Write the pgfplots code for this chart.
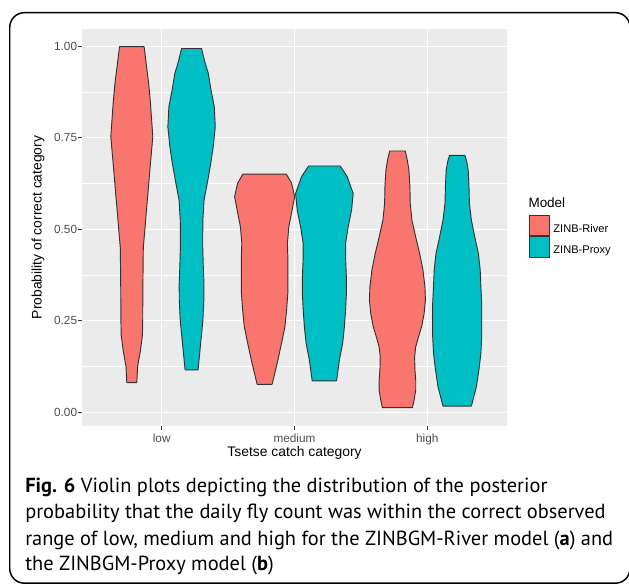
\documentclass[border=0pt]{standalone}
\usepackage{pgfplots}
\pgfplotsset{compat=1.18}
\usepackage{pgfplotstable}
\usepackage{fontspec}
\setmainfont{Liberation Sans}
\newfontfamily\capfont{PT Sans}

\definecolor{vred}{HTML}{F8766D}
\definecolor{vteal}{HTML}{00BFC4}
\definecolor{panel}{HTML}{EBEBEB}
\definecolor{vline}{HTML}{333333}
\definecolor{labelgray}{HTML}{4D4D4D}

% violin outlines: y, signed half width (x units); up the right side, down the left side
\pgfplotstableread{
y w
0.081 0.0377
0.125 0.0437
0.170 0.0655
0.210 0.0798
0.250 0.0821
0.300 0.0828
0.350 0.0836
0.400 0.0851
0.450 0.0866
0.500 0.0986
0.550 0.1099
0.600 0.1220
0.650 0.1333
0.700 0.1453
0.753 0.1581
0.800 0.1491
0.850 0.1393
0.900 0.1265
0.950 0.1092
0.999 0.0926
0.999 -0.0926
0.950 -0.1092
0.900 -0.1265
0.850 -0.1393
0.800 -0.1491
0.753 -0.1581
0.700 -0.1453
0.650 -0.1333
0.600 -0.1220
0.550 -0.1099
0.500 -0.0986
0.450 -0.0866
0.400 -0.0851
0.350 -0.0836
0.300 -0.0828
0.250 -0.0821
0.210 -0.0798
0.170 -0.0655
0.125 -0.0437
0.081 -0.0377
0.081 0.0377
}\redlow
\pgfplotstableread{
y w
0.116 0.0489
0.150 0.0580
0.200 0.0715
0.250 0.0851
0.307 0.0926
0.350 0.0934
0.400 0.0881
0.450 0.0843
0.490 0.0843
0.525 0.0851
0.580 0.0941
0.626 0.1182
0.680 0.1446
0.726 0.1634
0.780 0.1785
0.835 0.1709
0.880 0.1468
0.926 0.1258
0.960 0.0979
0.994 0.0753
0.994 -0.0753
0.960 -0.0979
0.926 -0.1258
0.880 -0.1468
0.835 -0.1709
0.780 -0.1785
0.726 -0.1634
0.680 -0.1446
0.626 -0.1182
0.580 -0.0941
0.525 -0.0851
0.490 -0.0843
0.450 -0.0843
0.400 -0.0881
0.350 -0.0934
0.307 -0.0926
0.250 -0.0851
0.200 -0.0715
0.150 -0.0580
0.116 -0.0489
0.116 0.0489
}\teallow
\pgfplotstableread{
y w
0.0765 0.0565
0.143 0.1002
0.200 0.1340
0.234 0.1529
0.280 0.1657
0.325 0.1747
0.370 0.1755
0.416 0.1755
0.462 0.1717
0.507 0.1822
0.553 0.2071
0.589 0.2259
0.626 0.2033
0.651 0.1634
0.651 -0.1634
0.626 -0.2033
0.589 -0.2259
0.553 -0.2071
0.507 -0.1822
0.462 -0.1717
0.416 -0.1755
0.370 -0.1755
0.325 -0.1747
0.280 -0.1657
0.234 -0.1529
0.200 -0.1340
0.143 -0.1002
0.0765 -0.0565
0.0765 0.0565
}\redmed
\pgfplotstableread{
y w
0.086 0.0919
0.143 0.1130
0.189 0.1378
0.234 0.1506
0.280 0.1596
0.325 0.1657
0.370 0.1657
0.416 0.1604
0.462 0.1596
0.507 0.1792
0.553 0.2048
0.598 0.2169
0.644 0.1717
0.673 0.1190
0.673 -0.1190
0.644 -0.1717
0.598 -0.2169
0.553 -0.2048
0.507 -0.1792
0.462 -0.1596
0.416 -0.1604
0.370 -0.1657
0.325 -0.1657
0.280 -0.1596
0.234 -0.1506
0.189 -0.1378
0.143 -0.1130
0.086 -0.0919
0.086 0.0919
}\tealmed
\pgfplotstableread{
y w
0.0126 0.1130
0.034 0.1258
0.061 0.1378
0.088 0.1378
0.116 0.1318
0.152 0.1295
0.179 0.1378
0.207 0.1596
0.234 0.1822
0.270 0.2011
0.307 0.2108
0.343 0.2071
0.389 0.1920
0.434 0.1672
0.480 0.1370
0.525 0.1092
0.571 0.0964
0.616 0.0941
0.662 0.0866
0.690 0.0738
0.714 0.0587
0.714 -0.0587
0.690 -0.0738
0.662 -0.0866
0.616 -0.0941
0.571 -0.0964
0.525 -0.1092
0.480 -0.1370
0.434 -0.1672
0.389 -0.1920
0.343 -0.2071
0.307 -0.2108
0.270 -0.2011
0.234 -0.1822
0.207 -0.1596
0.179 -0.1378
0.152 -0.1295
0.116 -0.1318
0.088 -0.1378
0.061 -0.1378
0.034 -0.1258
0.0126 -0.1130
0.0126 0.1130
}\redhigh
\pgfplotstableread{
y w
0.017 0.1069
0.070 0.1446
0.116 0.1634
0.161 0.1785
0.207 0.1845
0.252 0.1845
0.298 0.1845
0.343 0.1785
0.389 0.1732
0.434 0.1596
0.480 0.1318
0.525 0.1069
0.571 0.0919
0.616 0.0889
0.662 0.0828
0.685 0.0715
0.702 0.0580
0.702 -0.0580
0.685 -0.0715
0.662 -0.0828
0.616 -0.0889
0.571 -0.0919
0.525 -0.1069
0.480 -0.1318
0.434 -0.1596
0.389 -0.1732
0.343 -0.1785
0.298 -0.1845
0.252 -0.1845
0.207 -0.1845
0.161 -0.1785
0.116 -0.1634
0.070 -0.1446
0.017 -0.1069
0.017 0.1069
}\tealhigh

\begin{document}
\begin{tikzpicture}
\begin{scope}
\clip (0,0) rectangle (471.75pt,-438pt);
\begin{axis}[
    at={(61.5pt,-319.5pt)}, anchor=south west,
    scale only axis, width=318.75pt, height=297.75pt,
    xmin=0.4, xmax=3.6, ymin=-0.0374, ymax=1.0473,
    axis background/.style={fill=panel},
    axis line style={draw=none},
    xtick={1,2,3}, xticklabels={low,medium,high},
    ytick={0,0.25,0.5,0.75,1}, yticklabels={0.00,0.25,0.50,0.75,1.00},
    minor ytick={0.125,0.375,0.625,0.875},
    xtick pos=bottom, ytick pos=left,
    grid=both,
    major grid style={white, line width=1pt},
    minor grid style={white, line width=0.5pt},
    tick align=outside, major tick length=3pt, minor tick length=0pt,
    tick style={color=vline, line width=0.8pt},
    ticklabel style={font=\fontsize{8.85}{10}\selectfont, text=labelgray},
    yticklabel style={inner sep=0.5pt},
    xticklabel style={inner sep=2.5pt},
    legend style={at={(axis description cs:1.051,0.532)}, anchor=north west,
        draw=none, fill=none, inner sep=0pt, row sep=0pt,
        font=\fontsize{8.3}{10}\selectfont,
        nodes={inner sep=0.5pt},
        /tikz/every odd column/.append style={column sep=2.2pt}},
    legend cell align=left,
    legend image code/.code={\draw[#1] (0pt,-4.6pt) rectangle (15pt,10.6pt);},
    violin/.style={draw=vline, line width=0.7pt, line join=round, mark=none},
]
\addplot[violin, fill=vred] table[x expr=0.775+\thisrow{w}, y=y] {\redlow};
\addlegendentry{ZINB-River}
\addplot[violin, fill=vteal] table[x expr=1.225+\thisrow{w}, y=y] {\teallow};
\addlegendentry{ZINB-Proxy}
\addplot[violin, fill=vred, forget plot] table[x expr=1.775+\thisrow{w}, y=y] {\redmed};
\addplot[violin, fill=vteal, forget plot] table[x expr=2.225+\thisrow{w}, y=y] {\tealmed};
\addplot[violin, fill=vred, forget plot] table[x expr=2.775+\thisrow{w}, y=y] {\redhigh};
\addplot[violin, fill=vteal, forget plot] table[x expr=3.225+\thisrow{w}, y=y] {\tealhigh};
\end{axis}

% axis titles and legend title
\node[font=\fontsize{10.4}{12}\selectfont] at (220.9pt,-339.75pt) {Tsetse catch category};
\node[font=\fontsize{10.4}{12}\selectfont, rotate=90] at (28.5pt,-170.6pt) {Probability of correct category};
\node[font=\fontsize{10.1}{12}\selectfont, anchor=west, inner sep=0pt] at (396.2pt,-152.25pt) {Model};

% caption
\begin{scope}[every node/.style={anchor=base west, inner sep=0pt, font=\capfont\fontsize{15.3}{20}\selectfont}]
\node at (18.75pt,-369.2pt) {\textbf{Fig. 6} Violin plots depicting the distribution of the posterior};
\node at (18.75pt,-389.25pt) {probability that the daily fly count was within the correct observed};
\node at (18.75pt,-409pt) {range of low, medium and high for the ZINBGM-River model (\textbf{a}) and};
\node at (18.75pt,-428.25pt) {the ZINBGM-Proxy model (\textbf{b})};
\end{scope}

% frame
\draw[line width=1.1pt, rounded corners=11pt] (7.3pt,-9.5pt) rectangle (472.5pt,-437.4pt);
\end{scope}
\pgfresetboundingbox
\path[use as bounding box] (0,0) rectangle (471.75pt,-438pt);
\end{tikzpicture}
\end{document}
